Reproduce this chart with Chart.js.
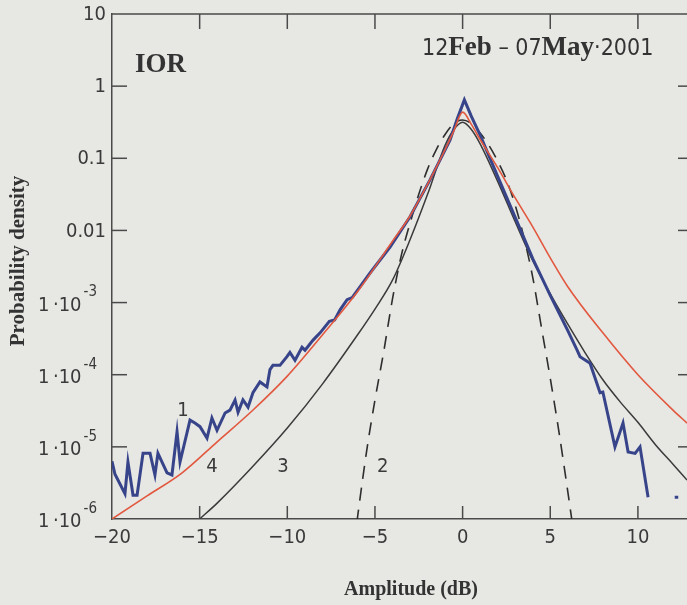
<!doctype html>
<html lang="en">
<head>
<meta charset="utf-8">
<title>IOR amplitude pdf</title>
<script src="https://cdn.jsdelivr.net/npm/chart.js@4.4.1/dist/chart.umd.min.js"></script>
<style>
  html, body { margin: 0; padding: 0; background: #e7e7e4; }
  canvas { display: block; }
</style>
</head>
<body>
<canvas id="pdfChart" width="687" height="605"></canvas>
<script>
// axis ticks
var xTicks = [-20, -15, -10, -5, 0, 5, 10];
var yTicks = [1e-6, 1e-5, 1e-4, 1e-3, 0.01, 0.1, 1, 10];
var yTickText = ['1\u2009·10', '1\u2009·10', '1\u2009·10', '1\u2009·10', '0.01', '0.1', '1', '10'];
var yTickSup = ['-6', '-5', '-4', '-3', '', '', '', ''];

// densities are kept as powers of ten
// 1 - measured histogram (blue)
var measX = [-20, -19.83, -19.26, -19.09, -18.8, -18.57, -18.23, -17.83, -17.55, -17.38, -16.86, -16.58,
  -16.29, -16.12, -15.55, -15.27, -14.98, -14.58, -14.3, -14.01, -13.55, -13.27, -12.98, -12.81,
  -12.53, -12.24, -11.96, -11.56, -11.16, -10.99, -10.82, -10.42, -10.02, -9.85, -9.56, -9.16,
  -8.99, -8.53, -8.13, -7.6, -7.3, -6.99, -6.59, -6.3, -5.28, -4.14, -3.0, -1.86, -0.72, -0.3,
  0.1, 0.5, 1, 2, 3, 4, 5, 6, 6.53, 6.7, 7.27, 7.84, 8.0, 8.69, 9.15, 9.44, 9.84, 10.12, 10.58,
  11.3, 12.1, 12.3];
var measExp = [-5.2, -5.38, -5.65, -5.21, -5.67, -5.67, -5.09, -5.09, -5.39, -5.09, -5.36, -5.39,
  -4.79, -5.21, -4.63, -4.67, -4.72, -4.88, -4.6, -4.77, -4.53, -4.49, -4.35, -4.52,
  -4.35, -4.45, -4.25, -4.1, -4.17, -3.93, -3.87, -3.87, -3.75, -3.69, -3.8, -3.62,
  -3.66, -3.52, -3.42, -3.26, -3.24, -3.1, -2.96, -2.93, -2.59, -2.23, -1.81, -1.3, -0.75, -0.45,
  -0.19, -0.42, -0.68, -1.25, -1.82, -2.39, -2.9, -3.39, -3.66, -3.75, -3.84, -4.25, -4.24, -5.0, -4.67, -5.07, -5.09, -5.0, -5.7,
  null, -5.7, -5.7];

// 2 - gaussian (dashed)
var gaussX = [-6.2, -5.5, -5, -4.5, -4, -3.5, -3, -2.5, -2, -1.5, -1, -0.5, 0, 0.5, 1, 1.5, 2, 2.5, 3, 3.5, 4, 4.5, 5, 5.5, 6, 6.4];
var gaussExp = [-6.35, -5.1, -4.35, -3.68, -2.95, -2.35, -1.9, -1.5, -1.15, -0.88, -0.67, -0.52, -0.47, -0.52, -0.65, -0.82, -1.04, -1.3, -1.65, -2.1, -2.65, -3.35, -4.05, -4.8, -5.62, -6.3];

// 3 - model (black)
var modelX = [-15, -14, -12, -10, -8, -6, -5, -4, -3, -2, -1, -0.5, 0, 0.5, 1, 2, 3, 4, 5, 6, 7, 8, 9, 10, 11, 12, 12.8];
var modelExp = [-6.0, -5.78, -5.28, -4.74, -4.13, -3.45, -3.09, -2.69, -2.13, -1.5, -0.82, -0.6, -0.5, -0.6, -0.8, -1.32, -1.88, -2.42, -2.88, -3.3, -3.7, -4.07, -4.38, -4.66, -4.97, -5.24, -5.46];

// 4 - model (red)
var fitX = [-20, -18, -16, -14, -12, -10, -8, -6, -4, -3, -2, -1, -0.5, 0, 0.5, 1, 2, 3, 4, 5, 6, 8, 10, 12, 12.8];
var fitExp = [-6.0, -5.68, -5.36, -4.93, -4.5, -4.02, -3.45, -2.85, -2.15, -1.8, -1.36, -0.88, -0.62, -0.36, -0.53, -0.74, -1.13, -1.55, -1.95, -2.38, -2.78, -3.42, -4.0, -4.49, -4.67];

// curve numbers placed in data coordinates
var curveNames = ['1', '4', '3', '2'];
var curveNameX = [-15.95, -14.3, -10.25, -4.55];
var curveNameY = [3.2e-5, 5.3e-6, 5.3e-6, 5.3e-6];

var narrow = "'Liberation Sans Narrow', 'DejaVu Sans Condensed', 'Liberation Sans', sans-serif";
var serif = "'Liberation Serif', 'DejaVu Serif', serif";
var axisColor = '#4a4a4a';
var textColor = '#3a3a3a';

function toPoints(xs, exps) {
  return xs.map(function (x, i) {
    return { x: x, y: exps[i] === null ? null : Math.pow(10, exps[i]) };
  });
}

var frame = {
  id: 'frame',
  beforeDraw: function (chart) {
    var ctx = chart.ctx;
    ctx.save();
    ctx.fillStyle = '#e7e7e4';
    ctx.fillRect(0, 0, chart.width, chart.height);
    ctx.restore();
  },
  afterDraw: function (chart) {
    var ctx = chart.ctx, a = chart.chartArea;
    var xs = chart.scales.x, ys = chart.scales.y;
    ctx.save();
    ctx.strokeStyle = axisColor;
    ctx.lineWidth = 1.5;
    function seg(x1, y1, x2, y2) {
      ctx.beginPath(); ctx.moveTo(x1, y1); ctx.lineTo(x2, y2); ctx.stroke();
    }
    // top frame line
    seg(a.left, a.top, a.right, a.top);
    // inward ticks
    xTicks.forEach(function (v) {
      if (v === xs.min) return;
      var px = xs.getPixelForValue(v);
      seg(px, a.bottom, px, a.bottom - 13);
      seg(px, a.top, px, a.top + 15);
    });
    yTicks.forEach(function (v, i) {
      var py = ys.getPixelForValue(v);
      if (i > 0 && i < yTicks.length - 1) {
        seg(a.left, py, a.left + 15, py);
        seg(a.right - 9, py, a.right, py);
      }
      // tick labels
      ctx.fillStyle = textColor;
      ctx.textBaseline = 'middle';
      if (yTickSup[i]) {
        ctx.font = '15px ' + narrow;
        ctx.textAlign = 'left';
        var supW = ctx.measureText(yTickSup[i]).width;
        ctx.fillText(yTickSup[i], 97 - supW, py - 10);
        ctx.font = '20px ' + narrow;
        ctx.textAlign = 'right';
        ctx.fillText(yTickText[i], 97 - supW - 2, py + 3);
      } else {
        ctx.font = '20px ' + narrow;
        ctx.textAlign = 'right';
        ctx.fillText(yTickText[i], 106, py + 1);
      }
    });

    // curve numbers
    ctx.font = '20px ' + narrow;
    ctx.textAlign = 'center';
    ctx.textBaseline = 'middle';
    ctx.fillStyle = textColor;
    curveNames.forEach(function (t, i) {
      ctx.fillText(t, xs.getPixelForValue(curveNameX[i]), ys.getPixelForValue(curveNameY[i]));
    });

    // station and period
    ctx.textAlign = 'left';
    ctx.textBaseline = 'alphabetic';
    ctx.fillStyle = '#333';
    ctx.font = 'bold 27px ' + serif;
    ctx.fillText('IOR', a.left + 23, a.top + 58);

    var parts = [['12', '23px ' + narrow], ['Feb', 'bold 27px ' + serif], [' \u2013 07', '23px ' + narrow],
      ['May', 'bold 27px ' + serif], ['·2001', '23px ' + narrow]];
    var cx = 422;
    parts.forEach(function (p) {
      ctx.font = p[1];
      ctx.fillText(p[0], cx, a.top + 41);
      cx += ctx.measureText(p[0]).width;
    });

    // axis titles
    ctx.font = 'bold 20px ' + serif;
    ctx.textAlign = 'center';
    ctx.textBaseline = 'middle';
    ctx.fillText('Amplitude (dB)', 411, 590);
    ctx.translate(19, 261);
    ctx.rotate(-Math.PI / 2);
    ctx.font = 'bold 21px ' + serif;
    ctx.fillText('Probability density', 0, 0);
    ctx.restore();
  }
};

var ctx = document.getElementById('pdfChart').getContext('2d');
var chart = new Chart(ctx, {
  type: 'line',
  data: {
    datasets: [{
      label: '4',
      data: toPoints(fitX, fitExp),
      borderColor: '#e2583e',
      borderWidth: 1.6,
      cubicInterpolationMode: 'monotone',
      pointRadius: 0
    }, {
      label: '1',
      data: toPoints(measX, measExp),
      borderColor: '#37448a',
      borderWidth: 3,
      tension: 0,
      spanGaps: false,
      pointRadius: 0
    }, {
      label: '3',
      data: toPoints(modelX, modelExp),
      borderColor: '#3a3a3a',
      borderWidth: 1.5,
      cubicInterpolationMode: 'monotone',
      pointRadius: 0
    }, {
      label: '2',
      data: toPoints(gaussX, gaussExp),
      borderColor: '#2e2e2e',
      borderWidth: 1.6,
      borderDash: [13, 9],
      cubicInterpolationMode: 'monotone',
      pointRadius: 0
    }]
  },
  options: {
    responsive: false,
    animation: false,
    devicePixelRatio: 1,
    layout: { padding: { left: 112, top: 14, right: 0, bottom: 0 } },
    plugins: { legend: { display: false }, tooltip: { enabled: false } },
    scales: {
      x: {
        type: 'linear',
        min: -20,
        max: 12.8,
        afterBuildTicks: function (s) { s.ticks = xTicks.map(function (v) { return { value: v }; }); },
        afterFit: function (s) { s.height = 86; },
        grid: { drawOnChartArea: false, drawTicks: false },
        border: { color: axisColor, width: 1.5 },
        ticks: {
          padding: 7,
          color: textColor,
          autoSkip: false,
          maxRotation: 0,
          font: { family: narrow, size: 20 },
          callback: function (v) { return v < 0 ? '\u2212' + Math.abs(v) : String(v); }
        }
      },
      y: {
        type: 'logarithmic',
        min: 1e-6,
        max: 10,
        afterBuildTicks: function (s) { s.ticks = yTicks.map(function (v) { return { value: v }; }); },
        afterFit: function (s) { s.width = 0; },
        grid: { drawOnChartArea: false, drawTicks: false },
        border: { color: axisColor, width: 1.5 },
        ticks: { display: false }
      }
    }
  },
  plugins: [frame]
});
</script>
</body>
</html>
